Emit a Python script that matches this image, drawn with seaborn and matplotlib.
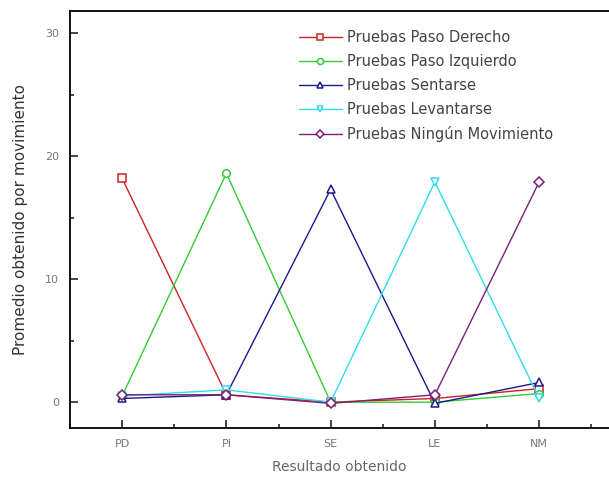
import matplotlib
matplotlib.use('Agg')
import matplotlib.pyplot as plt
from matplotlib.ticker import MultipleLocator
import seaborn as sns
import pandas as pd

# Datos
categorias = ["PD", "PI", "SE", "LE", "NM"]
series = [
    "Pruebas Paso Derecho",
    "Pruebas Paso Izquierdo",
    "Pruebas Sentarse",
    "Pruebas Levantarse",
    "Pruebas Ningún Movimiento",
]
paso_derecho = [18.2, 0.6, 0.0, 0.3, 1.1]
paso_izquierdo = [0.5, 18.6, 0.0, 0.0, 0.7]
sentarse = [0.3, 0.6, 17.3, -0.1, 1.6]
levantarse = [0.5, 1.0, 0.0, 17.9, 0.3]
ningun_mov = [0.6, 0.6, -0.1, 0.6, 17.9]

colores = ["#CC2222", "#33CC33", "#1A1A8C", "#33DDEE", "#7A1F7A"]
marcadores = ["s", "o", "^", "v", "D"]

valores = [paso_derecho, paso_izquierdo, sentarse, levantarse, ningun_mov]
filas = []
for nombre, vals in zip(series, valores):
    for i, v in enumerate(vals):
        filas.append({"serie": nombre, "pos": i, "valor": v})
df = pd.DataFrame(filas)

sns.set_style("ticks")
plt.rcParams['font.family'] = ['DejaVu Sans']

fig = plt.figure(figsize=(6.09, 4.82), dpi=100)
ax = fig.add_axes([70 / 609, 1 - 428 / 482, (609 - 70) / 609, (428 - 11) / 482])

sns.lineplot(
    data=df, x="pos", y="valor", hue="serie", style="serie",
    hue_order=series, style_order=series,
    palette=colores, markers=marcadores, dashes=False,
    linewidth=1.0, markersize=5.5, legend=False, ax=ax,
)

# Marcadores huecos
for linea in ax.lines:
    linea.set_markerfacecolor("white")
    linea.set_markeredgecolor(linea.get_color())
    linea.set_markeredgewidth(1.1)

ax.legend(
    ax.lines[:len(series)], series,
    loc="upper left", bbox_to_anchor=(292 / 609, 1 - 23 / 482),
    bbox_transform=fig.transFigure, frameon=False,
    fontsize=10.5, handlelength=2.9, handletextpad=0.4,
    labelspacing=0.62, markerscale=0.8, borderpad=0,
    labelcolor="#444444",
)

ax.set_xlim(-0.5, 4.67)
ax.set_ylim(-2.1, 31.8)
ax.set_xticks(range(len(categorias)))
ax.set_xticklabels(categorias)
ax.xaxis.set_minor_locator(MultipleLocator(0.5))
ax.set_yticks([0, 10, 20, 30])
ax.yaxis.set_minor_locator(MultipleLocator(5))
ax.tick_params(which="both", direction="in", top=False, right=False,
               labelsize=8, labelcolor="#777777", width=1.2)
ax.tick_params(which="major", length=6, pad=8)
ax.tick_params(which="minor", length=3)

ax.spines["right"].set_visible(False)
for lado in ["left", "bottom", "top"]:
    ax.spines[lado].set_linewidth(1.3)
    ax.spines[lado].set_color("black")

ax.set_xlabel("Resultado obtenido", fontsize=10, color="#666666", labelpad=8)
ax.set_ylabel("Promedio obtenido por movimiento", fontsize=11, color="#333333", labelpad=12)

fig.savefig("out.png", dpi=100)
plt.close(fig)
